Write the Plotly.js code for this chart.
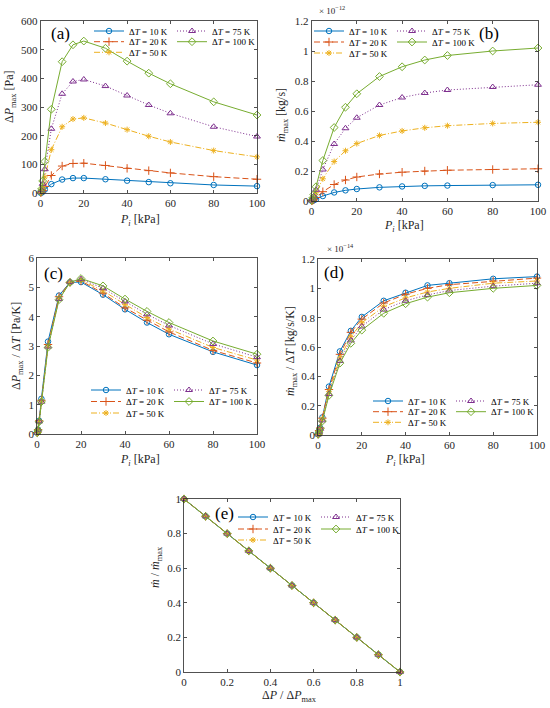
<!DOCTYPE html>
<html>
<head>
<meta charset="utf-8">
<script src="https://cdn.plot.ly/plotly-3.0.1.min.js"></script>
<style>html,body{margin:0;padding:0;background:#fff;}#chart{width:550px;height:708px;}</style>
</head>
<body>
<div id="chart"></div>
<script>
// ---------- data ----------
const P = [0.1, 0.5, 1, 2, 5, 10, 15, 20, 30, 40, 50, 60, 80, 100];
const dTlabels = ['10', '20', '50', '75', '100'];

// (a) ΔP_max [Pa]
const a10  = [0.5, 1.5, 4.5, 12, 31, 47, 52, 52, 48, 43, 38, 34, 28, 24];
const a20  = [1, 3, 9, 23, 61, 94, 103, 104, 96, 86, 78, 70, 57, 48];
const a50  = [2, 7, 22, 56, 151, 231, 258, 262, 244, 221, 198, 178, 148, 126];
const a75  = [3, 10, 32, 83, 224, 346, 389, 396, 373, 340, 307, 278, 231, 197];
const a100 = [4, 14, 42, 110, 292, 458, 517, 530, 505, 460, 418, 381, 318, 272];

// (b) m_max [kg/s] x 1e-12
const b10  = [0.0005, 0.002, 0.005, 0.012, 0.033, 0.057, 0.071, 0.080, 0.091, 0.097, 0.101, 0.103, 0.106, 0.108];
const b20  = [0.001, 0.004, 0.009, 0.023, 0.062, 0.110, 0.140, 0.160, 0.180, 0.192, 0.200, 0.205, 0.210, 0.215];
const b50  = [0.002, 0.010, 0.022, 0.055, 0.148, 0.263, 0.335, 0.383, 0.437, 0.467, 0.488, 0.502, 0.517, 0.525];
const b75  = [0.003, 0.015, 0.032, 0.075, 0.210, 0.380, 0.485, 0.555, 0.640, 0.690, 0.720, 0.740, 0.760, 0.775];
const b100 = [0.004, 0.020, 0.043, 0.095, 0.270, 0.490, 0.625, 0.715, 0.830, 0.895, 0.940, 0.970, 1.000, 1.020];

// (c) ΔP_max/ΔT [Pa/K]
const c10  = [0.05, 0.15, 0.45, 1.20, 3.15, 4.72, 5.17, 5.18, 4.75, 4.25, 3.80, 3.40, 2.80, 2.35];
const c20  = [0.05, 0.15, 0.45, 1.15, 3.05, 4.68, 5.17, 5.22, 4.80, 4.30, 3.88, 3.48, 2.85, 2.42];
const c50  = [0.04, 0.14, 0.44, 1.12, 3.00, 4.62, 5.17, 5.25, 4.88, 4.42, 3.97, 3.58, 2.95, 2.52];
const c75  = [0.04, 0.14, 0.43, 1.10, 2.98, 4.60, 5.18, 5.28, 4.97, 4.52, 4.08, 3.70, 3.07, 2.62];
const c100 = [0.04, 0.13, 0.42, 1.10, 2.95, 4.58, 5.17, 5.30, 5.05, 4.60, 4.18, 3.80, 3.17, 2.72];

// (d) m_max/ΔT [kg/s/K] x 1e-14
const d10  = [0.005, 0.030, 0.050, 0.120, 0.330, 0.570, 0.710, 0.805, 0.915, 0.970, 1.020, 1.035, 1.065, 1.080];
const d20  = [0.005, 0.030, 0.048, 0.115, 0.310, 0.550, 0.700, 0.790, 0.900, 0.960, 1.000, 1.025, 1.050, 1.070];
const d50  = [0.004, 0.025, 0.045, 0.110, 0.295, 0.525, 0.670, 0.765, 0.875, 0.935, 0.975, 1.000, 1.035, 1.050];
const d75  = [0.004, 0.020, 0.043, 0.100, 0.280, 0.505, 0.645, 0.740, 0.855, 0.915, 0.955, 0.985, 1.015, 1.035];
const d100 = [0.004, 0.020, 0.043, 0.095, 0.270, 0.490, 0.625, 0.715, 0.830, 0.895, 0.940, 0.970, 1.000, 1.020];

// (e) m/m_max vs ΔP/ΔP_max
const eX = [0, 0.1, 0.2, 0.3, 0.4, 0.5, 0.6, 0.7, 0.8, 0.9, 1];
const eY = [1, 0.9, 0.8, 0.7, 0.6, 0.5, 0.4, 0.3, 0.2, 0.1, 0];

// tick values / labels
const ticksP = [0, 20, 40, 60, 80, 100];
const ticksA = [0, 100, 200, 300, 400, 500, 600];
const ticks12 = [0, 0.2, 0.4, 0.6, 0.8, 1, 1.2];
const ticks12Text = ['0', '0.2', '0.4', '0.6', '0.8', '1', '1.2'];
const ticksC = [0, 1, 2, 3, 4, 5, 6];
const ticksE = [0, 0.2, 0.4, 0.6, 0.8, 1];
const ticksEText = ['0', '0.2', '0.4', '0.6', '0.8', '1'];

// axis titles
const piTitle = '<i>P</i><sub><i>i</i></sub> [kPa]';
const yTitles = [
  'Δ<i>P</i><sub>max</sub> [Pa]',
  '<i>ṁ</i><sub>max</sub> [kg/s]',
  'Δ<i>P</i><sub>max</sub> / Δ<i>T</i> [Pa/K]',
  '<i>ṁ</i><sub>max</sub> / Δ<i>T</i> [kg/s/K]',
  '<i>ṁ</i> / <i>ṁ</i><sub>max</sub>'
];
const xTitles = [piTitle, piTitle, piTitle, piTitle, 'Δ<i>P</i> / Δ<i>P</i><sub>max</sub>'];

// ---------- styles ----------
const FONT = '"Liberation Serif", "Times New Roman", Times, serif';
const AX = '#262626';
const styles = [
  {color: '#0072BD', dash: 'solid',            symbol: 'circle-open',      size: 5.5},
  {color: '#D95319', dash: '6px,3px',          symbol: 'cross-thin-open',  size: 6},
  {color: '#EDB120', dash: '6px,2px,1px,2px',  symbol: 'asterisk-open',    size: 5},
  {color: '#7E2F8E', dash: '1px,2px',          symbol: 'triangle-up-open', size: 6},
  {color: '#77AC30', dash: 'solid',            symbol: 'diamond-open',     size: 6}
];
// legend row for each series: row 0 -> 10 & 75, row 1 -> 20 & 100, row 2 -> 50
const rowOf = [0, 1, 2, 0, 1];

const panels = [
  {xs: [P, P, P, P, P], ys: [a10, a20, a50, a75, a100]},
  {xs: [P, P, P, P, P], ys: [b10, b20, b50, b75, b100]},
  {xs: [P, P, P, P, P], ys: [c10, c20, c50, c75, c100]},
  {xs: [P, P, P, P, P], ys: [d10, d20, d50, d75, d100]},
  {xs: [eX, eX, eX, eX, eX], ys: [eY, eY, eY, eY, eY]}
];

const W = 550, H = 708;
// pixel boxes [left, right, top, bottom]
const boxes = [
  [40.5, 257, 21, 193],
  [311.5, 538, 21, 201],
  [37, 257, 258, 434],
  [318, 537, 259, 435],
  [184, 400, 499, 672]
];
// legend placement: left px, row centres px
const legPos = [
  {x: 89,  rows: [31, 41.7, 52.3]},
  {x: 309, rows: [31, 42, 53]},
  {x: 86,  rows: [390, 401.5, 413]},
  {x: 368, rows: [401, 411.7, 422.3]},
  {x: 233, rows: [517, 529, 540]}
];
const LEG_OFF = 14.5;
// axis-title positions (px): x-title centre, y-title centre
const xTitlePos = [[140, 220], [404, 226], [140, 460], [405, 460], [289, 696]];
const yTitlePos = [[10, 97], [282, 115], [17, 346], [291, 351], [156, 567]];

const data = [];
const layout = {
  width: W, height: H,
  margin: {l: 0, r: 0, t: 0, b: 0},
  paper_bgcolor: '#fff', plot_bgcolor: '#fff',
  font: {family: FONT, color: AX, size: 11},
  showlegend: true,
  annotations: [],
  shapes: []
};

panels.forEach((pn, k) => {
  const xa = k === 0 ? 'x' : 'x' + (k + 1);
  const ya = k === 0 ? 'y' : 'y' + (k + 1);
  for (let s = 0; s < 5; s++) {
    const legIdx = k * 3 + rowOf[s] + 1;
    const st = styles[s];
    data.push({
      type: 'scatter', mode: 'lines+markers',
      x: pn.xs[s], y: pn.ys[s], xaxis: xa, yaxis: ya,
      name: 'Δ<i>T</i> = ' + dTlabels[s] + ' K',
      legend: legIdx === 1 ? 'legend' : 'legend' + legIdx,
      line: {color: st.color, width: 1, dash: st.dash},
      marker: {symbol: st.symbol, size: st.size, color: st.color, line: {color: st.color, width: 1}},
      cliponaxis: false
    });
  }
  for (let r = 0; r < 3; r++) {
    const legIdx = k * 3 + r + 1;
    const key = legIdx === 1 ? 'legend' : 'legend' + legIdx;
    layout[key] = {
      orientation: 'h', x: legPos[k].x / W, xanchor: 'left',
      y: 1 - (legPos[k].rows[r] - LEG_OFF) / H, yanchor: 'top',
      bgcolor: 'rgba(0,0,0,0)', borderwidth: 0,
      entrywidth: 38, entrywidthmode: 'pixels',
      font: {family: FONT, size: 9, color: '#000'}
    };
  }
  // axis titles as annotations
  layout.annotations.push({
    xref: 'paper', yref: 'paper', x: xTitlePos[k][0] / W, y: 1 - xTitlePos[k][1] / H,
    xanchor: 'center', yanchor: 'middle', showarrow: false,
    text: xTitles[k], font: {family: FONT, size: 12, color: AX}
  });
  layout.annotations.push({
    xref: 'paper', yref: 'paper', x: yTitlePos[k][0] / W, y: 1 - yTitlePos[k][1] / H,
    xanchor: 'center', yanchor: 'middle', showarrow: false, textangle: -90,
    text: yTitles[k], font: {family: FONT, size: 12, color: AX}
  });
});

function axis(box, isX, range, tv, tt, anchor) {
  const d = isX ? [box[0] / W, box[1] / W] : [1 - box[3] / H, 1 - box[2] / H];
  const o = {
    domain: d, range: range, anchor: anchor,
    tickmode: 'array', tickvals: tv,
    ticks: 'inside', ticklen: 3, tickwidth: 0.8, tickcolor: AX,
    showline: true, linecolor: AX, linewidth: 0.8, mirror: 'ticks',
    showgrid: false, zeroline: false, automargin: false, fixedrange: true,
    tickfont: {family: FONT, size: 11, color: AX}
  };
  if (tt) o.ticktext = tt;
  return o;
}
layout.xaxis  = axis(boxes[0], true, [0, 100], ticksP, null, 'y');
layout.yaxis  = axis(boxes[0], false, [0, 600], ticksA, null, 'x');
layout.xaxis2 = axis(boxes[1], true, [0, 100], ticksP, null, 'y2');
layout.yaxis2 = axis(boxes[1], false, [0, 1.2], ticks12, ticks12Text, 'x2');
layout.xaxis3 = axis(boxes[2], true, [0, 100], ticksP, null, 'y3');
layout.yaxis3 = axis(boxes[2], false, [0, 6], ticksC, null, 'x3');
layout.xaxis4 = axis(boxes[3], true, [0, 100], ticksP, null, 'y4');
layout.yaxis4 = axis(boxes[3], false, [0, 1.2], ticks12, ticks12Text, 'x4');
layout.xaxis5 = axis(boxes[4], true, [0, 1], ticksE, ticksEText, 'y5');
layout.yaxis5 = axis(boxes[4], false, [0, 1], ticksE, ticksEText, 'x5');

// panel labels
const labels = [['(a)', 60, 34], ['(b)', 489, 34], ['(c)', 53, 273], ['(d)', 334, 272], ['(e)', 224, 513]];
labels.forEach(l => layout.annotations.push({
  xref: 'paper', yref: 'paper', x: l[1] / W, y: 1 - l[2] / H, xanchor: 'center', yanchor: 'middle',
  text: l[0], showarrow: false, font: {family: FONT, size: 17, color: '#000'}
}));
// exponent labels
[['× 10<sup>−12</sup>', 317, 10], ['× 10<sup>−14</sup>', 325, 248]].forEach(l => layout.annotations.push({
  xref: 'paper', yref: 'paper', x: l[1] / W, y: 1 - l[2] / H, xanchor: 'left', yanchor: 'middle',
  text: l[0], showarrow: false, font: {family: FONT, size: 9, color: AX}
}));

Plotly.newPlot('chart', data, layout, {staticPlot: true, displayModeBar: false});
</script>
</body>
</html>
